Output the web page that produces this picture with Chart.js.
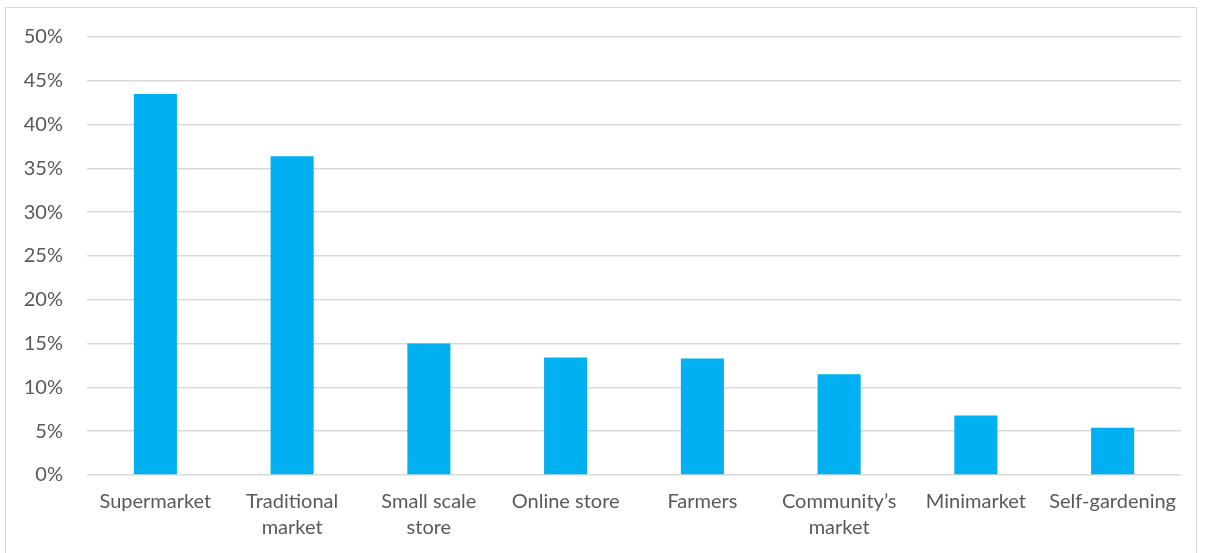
<!DOCTYPE html>
<html>
<head>
<meta charset="utf-8">
<script src="https://cdn.jsdelivr.net/npm/chart.js@4/dist/chart.umd.min.js"></script>
<style>
  html, body { margin: 0; padding: 0; background: #fff; }
  #wrap { position: relative; width: 1209px; height: 553px; }
  #frame { position: absolute; left: 5px; top: 7px; width: 1192px; height: 550px; border: 1px solid #d9d9d9; box-sizing: border-box; }
  canvas { position: absolute; left: 0; top: 0; }
</style>
</head>
<body>
<div id="wrap">
  <div id="frame"></div>
  <canvas id="outlets" width="1209" height="553"></canvas>
</div>
<script>
// where people buy their groceries, share of respondents (%)
const outlets = [
    'Supermarket',
    ['Traditional', 'market'],
    ['Small scale', 'store'],
    'Online store',
    'Farmers',
    ['Community\u2019s', 'market'],
    'Minimarket',
    'Self-gardening'
];
const shares = [43.5, 36.4, 15.0, 13.4, 13.3, 11.5, 6.8, 5.4];
const yTicks = [0, 5, 10, 15, 20, 25, 30, 35, 40, 45, 50];

const labelFont = { family: 'Lato, "Open Sans", sans-serif', size: 20, lineHeight: 1.3 };

const ctx = document.getElementById('outlets').getContext('2d');
new Chart(ctx, {
    type: 'bar',
    data: {
        labels: outlets,
        datasets: [{
            data: shares,
            backgroundColor: '#00b0f0',
            borderWidth: 0,
            barPercentage: 1,
            categoryPercentage: 0.315
        }]
    },
    options: {
        responsive: false,
        animation: false,
        layout: { padding: { left: 0, top: 36, right: 28, bottom: 0 } },
        plugins: {
            legend: { display: false },
            tooltip: { enabled: false }
        },
        scales: {
            x: {
                grid: { display: false, drawTicks: false },
                border: { display: false },
                ticks: {
                    color: '#595959',
                    font: labelFont,
                    padding: 14,
                    maxRotation: 0,
                    autoSkip: false
                },
                afterFit: function (scale) { scale.height = 553 - 475; }
            },
            y: {
                min: 0,
                max: 50,
                afterBuildTicks: function (scale) {
                    scale.ticks = yTicks.map(v => ({ value: v }));
                },
                grid: { color: '#d9d9d9', lineWidth: 1.5, drawTicks: false },
                border: { display: false },
                ticks: {
                    color: '#595959',
                    font: labelFont,
                    padding: 24,
                    callback: v => v + '%'
                },
                afterFit: function (scale) { scale.width = 87; }
            }
        }
    }
});
</script>
</body>
</html>
